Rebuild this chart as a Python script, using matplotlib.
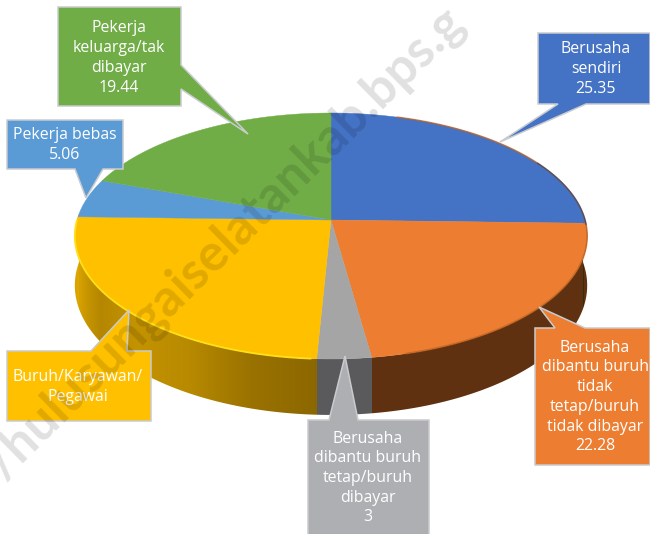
import numpy as np
import matplotlib
matplotlib.use("Agg")
import matplotlib.pyplot as plt
from matplotlib.colors import to_rgb
from matplotlib.patches import Polygon

plt.rcParams['font.family'] = ['Open Sans', 'DejaVu Sans']

# data, clockwise from 12 o'clock
categories = ["Berusaha sendiri", "Berusaha dibantu buruh tidak tetap/buruh tidak dibayar",
              "Berusaha dibantu buruh tetap/buruh dibayar", "Buruh/Karyawan/Pegawai",
              "Pekerja bebas", "Pekerja keluarga/tak dibayar"]
values = [25.35, 22.28, 3, 24.57, 5.06, 19.44]
labels = ["Berusaha\nsendiri\n25.35",
          "Berusaha\ndibantu buruh\ntidak\ntetap/buruh\ntidak dibayar\n22.28",
          "Berusaha\ndibantu buruh\ntetap/buruh\ndibayar\n3",
          "Buruh/Karyawan/\nPegawai",
          "Pekerja bebas\n5.06",
          "Pekerja\nkeluarga/tak\ndibayar\n19.44"]

colors = ["#4472C4", "#ED7D31", "#A5A5A5", "#FFC000", "#5B9BD5", "#70AD47"]
box_colors = ["#4472C4", "#ED7D31", "#AEAFB3", "#FFC000", "#5B9BD5", "#70AD47"]

# callout outlines in pixels, and the text centre of each
callouts = [
    [(538, 33), (650, 33), (650, 104), (586, 104), (500, 142), (558, 104), (538, 104)],
    [(535, 328), (555, 328), (539, 307), (585, 328), (650, 328), (650, 465), (535, 465)],
    [(308, 420), (329, 420), (345, 356), (358, 420), (429, 420), (429, 536), (308, 536)],
    [(7, 351), (91, 351), (129, 310), (127, 351), (151, 351), (151, 421), (7, 421)],
    [(7, 120), (123, 120), (123, 169), (103, 169), (86, 198), (75, 169), (7, 169)],
    [(58, 7), (181, 7), (181, 65), (248, 134), (181, 89), (181, 106), (58, 106)],
]
text_pos = [(596, 69), (595, 397), (368, 478), (78, 387), (65, 145), (119, 58)]

cx, cy = 331, 220
a, b, k = 254, 120.9, 0.13
depth = 48.7


def project(t):
    # pie angle (radians) to pixels, with the perspective of the tilted disc
    w = 1 + k * np.cos(t)
    return cx + a * np.sin(t) / w, cy - b * np.cos(t) / w


def side_colour(i, deg):
    if i == 3:
        stops = ["#8b6700", "#9a7200", "#b88a00", "#c49300", "#b58700", "#d6a000", "#dca600"]
        pos = np.linspace(182, 265, len(stops))
        rgb = np.array([to_rgb(c) for c in stops])
        return [np.interp(deg, pos, rgb[:, j]) for j in range(3)]
    return to_rgb({0: "#3a2a10", 1: "#5f3110", 2: "#5a5a5c", 4: "#dca600", 5: "#dca600"}[i])


fig = plt.figure(figsize=(6.5, 5.34), dpi=100)
ax = fig.add_axes([0, 0, 1, 1])
ax.set_xlim(0, 650)
ax.set_ylim(534, 0)
ax.axis('off')

edges = np.cumsum([0] + values) / sum(values) * 2 * np.pi

# side wall: colour by column, clipped to the outline of the wall
front = np.linspace(np.pi / 2 - 0.05, 3 * np.pi / 2 + 0.05, 800)
fx, fy = project(front)
fd = depth / (1 + k * np.cos(front))
order = np.argsort(fx)
columns = np.arange(650) + 0.5
col_t = np.interp(columns, fx[order], front[order])
col_i = np.clip(np.searchsorted(edges, col_t) - 1, 0, len(values) - 1)
strip = np.array([[side_colour(i, np.degrees(t)) for i, t in zip(col_i, col_t)]])
wall = ax.imshow(strip, extent=(0, 650, 534, 0), aspect='auto', interpolation='nearest', zorder=1)
wall_shape = Polygon(np.c_[np.r_[fx, fx[::-1]], np.r_[fy, (fy + fd)[::-1]]], closed=True,
                     transform=ax.transData, facecolor='none', edgecolor='none')
ax.add_patch(wall_shape)
wall.set_clip_path(wall_shape)
ax.set_xlim(0, 650)
ax.set_ylim(534, 0)

# top face
for i in range(len(values)):
    ts = np.linspace(edges[i], edges[i + 1], 200)
    xs, ys = project(ts)
    ax.fill(np.r_[cx, xs], np.r_[cy, ys], color=colors[i], lw=0.3, zorder=2)

# rim highlight and shadow
ts = np.linspace(edges[3] + 0.02, edges[4] - 0.03, 200)
xs, ys = project(ts)
ax.plot(xs, ys, color="#FFE01A", lw=1.3, zorder=3, solid_capstyle='round')
ts = np.linspace(edges[1] - 1.3, edges[2] - 0.12, 100)
xs, ys = project(ts)
ax.plot(xs, ys, color="#B8601F", lw=1.2, alpha=0.7, zorder=3)
ts = np.linspace(np.radians(60), np.radians(92), 60)
xs, ys = project(ts)
ax.plot(xs, ys, color="#2c4373", lw=1.0, alpha=0.7, zorder=3)

# callouts
for pts, col, txt, (tx, ty) in zip(callouts, box_colors, labels, text_pos):
    ax.add_patch(Polygon(pts, closed=True, facecolor=col, edgecolor="#C9CBCE", lw=1.1,
                         joinstyle='miter', zorder=4, clip_on=True))
    ax.text(tx, ty, txt, ha='center', va='center', color='white', fontsize=11.4,
            linespacing=1.31, zorder=5)

# watermark, only the part that fits in the picture
ax.text(225, 243, "/hulusungaiselatankab.bps.g", rotation=44.5, rotation_mode='anchor',
        ha='center', va='center', family='Lato', fontsize=37, fontweight='bold',
        color='black', alpha=0.12, zorder=6, clip_on=True)

fig.savefig("out.png", dpi=100)
